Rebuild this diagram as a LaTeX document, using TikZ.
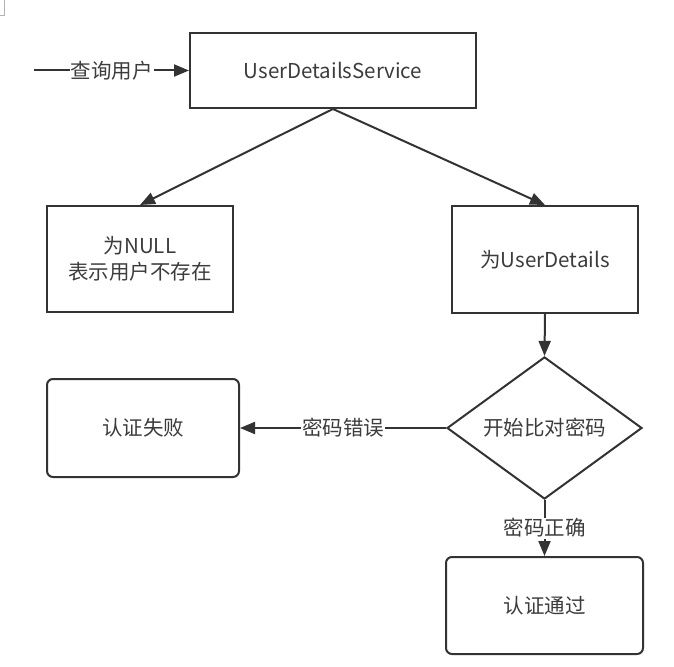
\documentclass[tikz,border=0pt]{standalone}
\usepackage{fontspec}
\setmainfont{Noto Sans CJK SC}
\usetikzlibrary{shapes.geometric,arrows.meta}
\definecolor{ln}{RGB}{51,51,51}
\definecolor{tx}{RGB}{60,60,60}
\tikzset{
  box/.style={draw=ln, line width=2pt, fill=white, text=tx, font=\fontsize{20.5}{26}\selectfont, align=center, inner sep=0pt},
  rbox/.style={box, rounded corners=6pt},
  dia/.style={box, diamond},
  conn/.style={draw=ln, line width=2pt, -{Triangle[length=15pt,width=12pt]}},
  lbl/.style={fill=white, text=tx, font=\fontsize{20.5}{26}\selectfont, inner sep=1pt}
}
\begin{document}
\begin{tikzpicture}[x=1pt,y=-1pt]
\useasboundingbox (0,0) rectangle (674,666);
\draw[gray!60, line width=0.8pt] (4,0) -- (4,15) -- (0,15);
\node[box, minimum width=286pt, minimum height=75pt] (uds) at (333,70.5) {UserDetailsService};
\node[box, minimum width=186pt, minimum height=106pt] (null) at (140,259) {为NULL\\表示用户不存在};
\node[box, minimum width=186pt, minimum height=107pt] (ud) at (545,259.5) {为UserDetails};
\node[dia, minimum width=195pt, minimum height=130pt] (cmp) at (544.5,428) {开始比对密码};
\node[rbox, minimum width=192pt, minimum height=98pt] (fail) at (143,428) {认证失败};
\node[rbox, minimum width=197pt, minimum height=97pt] (pass) at (544.5,605.5) {认证通过};
\coordinate (in) at (34,70.5);
\draw[conn] (in) -- node[lbl] {查询用户} (uds.west);
\draw[conn] (uds.south) -- (null.north);
\draw[conn] (uds.south) -- (ud.north);
\draw[conn] (ud.south) -- (cmp.north);
\draw[conn] (cmp.west) -- node[lbl] {密码错误} (fail.east);
\draw[conn] (cmp.south) -- node[lbl] {密码正确} (pass.north);
\end{tikzpicture}
\end{document}
